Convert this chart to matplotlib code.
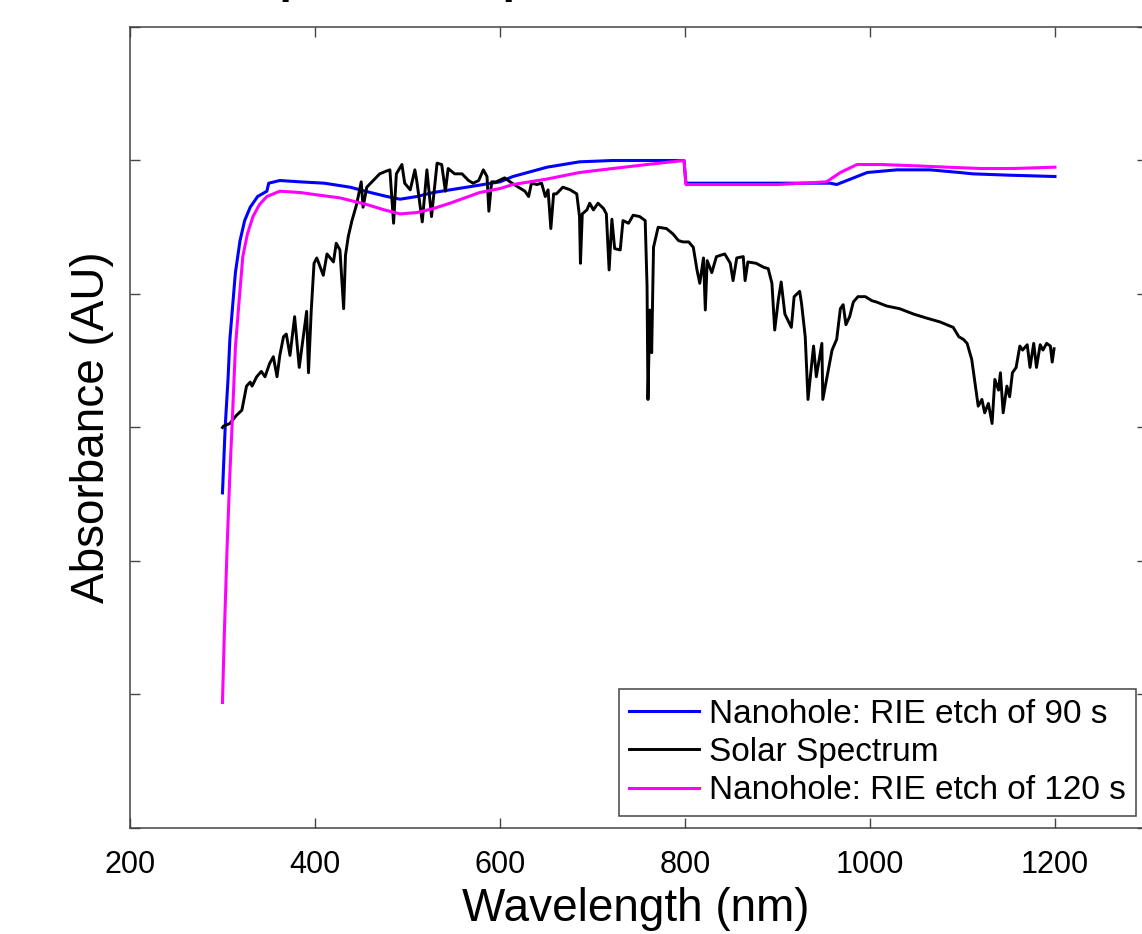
import matplotlib.pyplot as plt
import numpy as np

plt.rcParams['font.family'] = ['Liberation Sans', 'DejaVu Sans']

# Nanohole: RIE etch of 90 s
wl_90 = [300, 303, 306, 308, 314, 319, 324, 330, 338, 348, 350, 362, 384, 410, 438, 460,
         478, 492, 510, 528, 564, 600, 614, 651, 686, 722, 760, 799, 801, 850, 900, 957,
         964, 975, 997, 1029, 1065, 1097, 1111, 1150, 1200]
abs_90 = [2.51, 3.01, 3.36, 3.66, 4.16, 4.40, 4.55, 4.65, 4.73, 4.77, 4.83, 4.85, 4.84, 4.83,
          4.80, 4.76, 4.73, 4.71, 4.73, 4.76, 4.80, 4.84, 4.88, 4.95, 4.99, 5.00, 5.00, 5.00,
          4.83, 4.83, 4.83, 4.83, 4.82, 4.85, 4.91, 4.93, 4.93, 4.91, 4.90, 4.89, 4.88]

# Nanohole: RIE etch of 120 s
wl_120 = [300, 302, 305, 308, 311, 314, 318, 322, 327, 333, 340, 348, 362, 384, 405, 427,
          456, 475, 492, 510, 528, 546, 578, 600, 614, 650, 686, 722, 759, 799, 801, 850,
          900, 953, 968, 986, 1011, 1050, 1083, 1120, 1155, 1200]
abs_120 = [0.94, 1.45, 2.10, 2.65, 3.11, 3.60, 3.95, 4.28, 4.45, 4.58, 4.67, 4.73, 4.77, 4.76,
           4.74, 4.72, 4.67, 4.63, 4.60, 4.61, 4.64, 4.68, 4.76, 4.79, 4.82, 4.86, 4.91, 4.94,
           4.97, 5.00, 4.82, 4.82, 4.82, 4.84, 4.91, 4.97, 4.97, 4.96, 4.95, 4.94, 4.94, 4.95]

# Solar spectrum (scaled)
wl_sun = [300, 301, 308, 315, 321, 326, 330, 332, 337, 342, 346, 351, 355, 359, 362, 366,
          369, 373, 378, 383, 387, 391, 393, 396, 399, 402, 409, 413, 420, 423, 427, 431,
          433, 436, 440, 445, 450, 452, 456, 463, 470, 477, 481, 485, 488, 494, 497, 503,
          508, 510, 516, 521, 526, 532, 537, 541, 544, 551, 559, 566, 571, 577, 582, 586,
          588, 591, 596, 605, 613, 620, 627, 631, 634, 640, 645, 649, 652, 655, 658, 661,
          668, 676, 683, 686, 687, 689, 694, 697, 701, 706, 712, 715, 718, 721, 724, 730,
          733, 739, 744, 751, 757, 759, 760, 762, 764, 766, 771, 780, 787, 793, 798, 804,
          809, 813, 816, 820, 822, 824, 829, 834, 843, 849, 852, 856, 863, 865, 868, 877,
          885, 890, 894, 897, 901, 904, 908, 915, 918, 924, 926, 930, 933, 939, 942, 948,
          949, 955, 959, 964, 968, 971, 974, 978, 982, 987, 995, 1002, 1007, 1018, 1032, 1047,
          1061, 1076, 1090, 1096, 1101, 1105, 1110, 1114, 1117, 1121, 1124, 1128, 1132, 1135, 1139, 1141,
          1144, 1148, 1151, 1154, 1158, 1162, 1165, 1170, 1173, 1177, 1180, 1184, 1187, 1191, 1195, 1197,
          1199]
abs_sun = [3.00, 3.01, 3.03, 3.09, 3.13, 3.31, 3.34, 3.31, 3.38, 3.42, 3.38, 3.48, 3.53, 3.38, 3.54, 3.68,
           3.70, 3.54, 3.83, 3.45, 3.66, 3.87, 3.41, 3.88, 4.23, 4.27, 4.14, 4.30, 4.24, 4.38, 4.33, 3.89,
           4.29, 4.43, 4.55, 4.67, 4.84, 4.65, 4.80, 4.85, 4.90, 4.92, 4.93, 4.53, 4.90, 4.97, 4.83, 4.78,
           4.93, 4.85, 4.54, 4.93, 4.58, 4.98, 4.97, 4.77, 4.94, 4.90, 4.90, 4.85, 4.83, 4.85, 4.93, 4.88,
           4.62, 4.84, 4.84, 4.87, 4.83, 4.80, 4.77, 4.73, 4.83, 4.82, 4.83, 4.73, 4.78, 4.49, 4.75, 4.75,
           4.80, 4.78, 4.75, 4.58, 4.23, 4.60, 4.63, 4.68, 4.63, 4.68, 4.64, 4.60, 4.18, 4.56, 4.34, 4.33,
           4.55, 4.53, 4.59, 4.58, 4.55, 4.06, 3.21, 3.88, 3.56, 4.35, 4.50, 4.49, 4.45, 4.40, 4.39, 4.39,
           4.35, 4.18, 4.08, 4.27, 3.88, 4.25, 4.16, 4.28, 4.30, 4.23, 4.10, 4.27, 4.28, 4.10, 4.24, 4.23,
           4.20, 4.19, 4.08, 3.73, 3.96, 4.09, 3.85, 3.75, 3.98, 4.02, 3.93, 3.68, 3.21, 3.61, 3.38, 3.63,
           3.21, 3.43, 3.58, 3.66, 3.89, 3.92, 3.77, 3.83, 3.94, 3.98, 3.98, 3.95, 3.94, 3.91, 3.89, 3.85,
           3.82, 3.79, 3.75, 3.68, 3.66, 3.63, 3.51, 3.31, 3.16, 3.21, 3.11, 3.18, 3.03, 3.36, 3.28, 3.41,
           3.11, 3.31, 3.23, 3.41, 3.45, 3.61, 3.58, 3.62, 3.45, 3.63, 3.45, 3.62, 3.58, 3.63, 3.61, 3.49,
           3.59]

x_ticks = [200, 400, 600, 800, 1000, 1200]

fig = plt.figure(figsize=(11.42, 9.34), dpi=100)
ax = fig.add_axes([0.1138, 0.1135, 0.891, 0.8576])

ax.plot(wl_90, abs_90, color='#0000ff', lw=2.2, label='Nanohole: RIE etch of 90 s')
ax.plot(wl_sun, abs_sun, color='black', lw=2.1, label='Solar Spectrum')
ax.plot(wl_120, abs_120, color='#ff00ff', lw=2.2, label='Nanohole: RIE etch of 120 s')

ax.set_xlim(200, 1300)
ax.set_ylim(0, 6)
ax.set_xticks(x_ticks)
ax.set_yticks(np.arange(0, 7))
ax.set_yticklabels([])
ax.tick_params(direction='in', length=7, width=1, color='#444444', top=True, right=True,
               labelsize=22, pad=16)
for sp in ax.spines.values():
    sp.set_color('#444444')
    sp.set_linewidth(1.1)

ax.set_xlabel('Wavelength (nm)', fontsize=33)
ax.xaxis.set_label_coords(0.497, -0.074)
ax.set_ylabel('Absorbance (AU)', fontsize=33)
ax.yaxis.set_label_coords(-0.016, 0.5)

leg = ax.legend(loc='lower right', fontsize=24, frameon=True, fancybox=False,
                edgecolor='#444444', framealpha=1, borderaxespad=0.35, handlelength=2.1,
                handletextpad=0.3, labelspacing=0.22, borderpad=0.3)
leg.get_frame().set_linewidth(1.1)

# title sits mostly above the canvas, only descenders show
fig.text(152 / 1142, 1 + 7 / 934, 'Absorption vs. Spectrum', fontsize=31.8, fontweight='bold',
         ha='left', va='baseline')

fig.savefig('out.png', dpi=100)
